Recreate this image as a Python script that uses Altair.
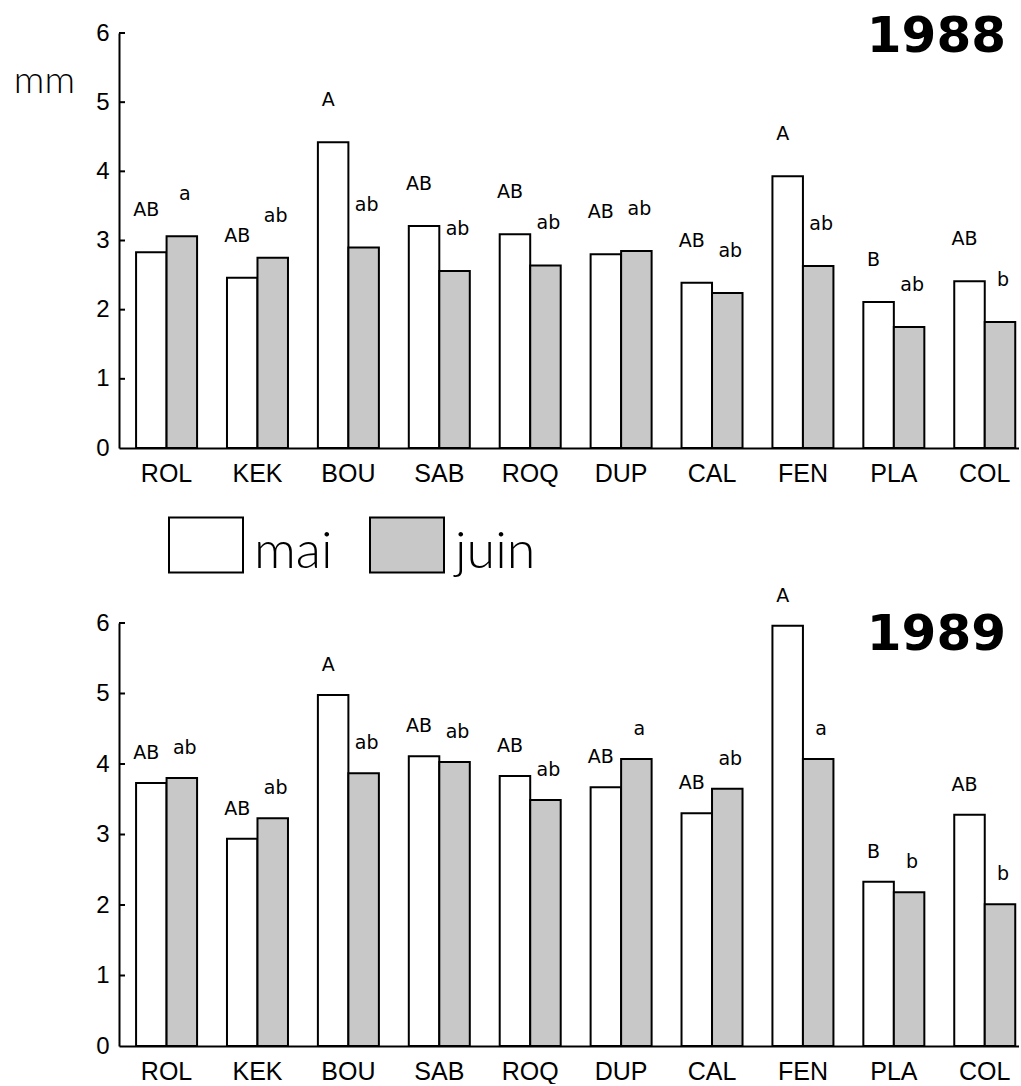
import altair as alt
import pandas as pd

sites = ["ROL", "KEK", "BOU", "SAB", "ROQ", "DUP", "CAL", "FEN", "PLA", "COL"]
months = ["mai", "juin"]
years = ["1988", "1989"]

mai_1988 = [2.83, 2.46, 4.42, 3.21, 3.09, 2.80, 2.39, 3.93, 2.11, 2.41]
juin_1988 = [3.06, 2.75, 2.90, 2.56, 2.64, 2.85, 2.24, 2.63, 1.75, 1.82]
lab_mai_1988 = ["AB", "AB", "A", "AB", "AB", "AB", "AB", "A", "B", "AB"]
lab_juin_1988 = ["a", "ab", "ab", "ab", "ab", "ab", "ab", "ab", "ab", "b"]

mai_1989 = [3.73, 2.94, 4.98, 4.11, 3.83, 3.67, 3.30, 5.96, 2.33, 3.28]
juin_1989 = [3.80, 3.23, 3.87, 4.03, 3.49, 4.07, 3.65, 4.07, 2.18, 2.01]
lab_mai_1989 = ["AB", "AB", "A", "AB", "AB", "AB", "AB", "A", "B", "AB"]
lab_juin_1989 = ["ab", "ab", "ab", "ab", "ab", "a", "ab", "a", "b", "b"]

y_ticks = [0, 1, 2, 3, 4, 5, 6]
unit_label = ["mm"]


def long_df(mai, juin, lab_mai, lab_juin):
    rows = []
    for i, s in enumerate(sites):
        rows.append({"site": s, "month": "mai", "value": mai[i], "label": lab_mai[i]})
        rows.append({"site": s, "month": "juin", "value": juin[i], "label": lab_juin[i]})
    return pd.DataFrame(rows)


W = 900
FONT = "Liberation Sans"
LIGHT = "Lato"
FILL = ["white", "#c8c8c8"]


def panel(df, year, height, label_gap, year_y, show_mm):
    xenc = alt.X(
        "site:N", sort=sites, title=None,
        scale=alt.Scale(paddingInner=0.329, paddingOuter=0.1145, align=0.82),
        axis=alt.Axis(labelFont=FONT, labelFontSize=25, labelColor="black", labelAngle=0,
                      labelPadding=13, ticks=False, tickSize=0, domainColor="black",
                      domainWidth=2, grid=False),
    )
    xoff = alt.XOffset("month:N", sort=months, scale=alt.Scale(paddingInner=0, paddingOuter=0))
    yenc = alt.Y(
        "value:Q", title=None,
        scale=alt.Scale(domain=[0, 6], nice=False, zero=True),
        axis=alt.Axis(values=y_ticks, format="d", labelFont=FONT, labelFontSize=24,
                      labelColor="black", labelPadding=10, ticks=False, tickSize=0,
                      domainColor="black", domainWidth=2, grid=False),
    )
    bars = alt.Chart(df).mark_bar(stroke="black", strokeWidth=2).encode(
        x=xenc, xOffset=xoff, y=yenc,
        fill=alt.Fill("month:N", sort=months,
                      scale=alt.Scale(domain=months, range=FILL), legend=None),
    )
    lab_mai = alt.Chart(df).transform_filter(alt.datum.month == "mai").mark_text(
        font="DejaVu Sans", fontSize=19, dy=-label_gap, dx=-5,
        baseline="alphabetic", color="black",
    ).encode(x=xenc, xOffset=xoff, y=alt.Y("value:Q", title=None), text="label:N")
    lab_juin = alt.Chart(df).transform_filter(alt.datum.month == "juin").mark_text(
        font="DejaVu Sans", fontSize=19, dy=-label_gap, dx=3,
        baseline="alphabetic", color="black",
    ).encode(x=xenc, xOffset=xoff, y=alt.Y("value:Q", title=None), text="label:N")
    ticks = alt.Chart(pd.DataFrame({"t": y_ticks[1:]})).mark_rule(
        color="black", strokeWidth=2
    ).encode(y=alt.Y("t:Q", title=None), x=alt.value(0), x2=alt.value(6))
    ytxt = alt.Chart(pd.DataFrame({"year": [year]})).mark_text(
        font="DejaVu Sans", fontWeight="bold", fontSize=50, align="right",
        baseline="alphabetic", color="black",
    ).encode(text="year:N", x=alt.value(887), y=alt.value(year_y))
    layers = [bars, lab_mai, lab_juin, ticks, ytxt]
    if show_mm:
        mm = alt.Chart(pd.DataFrame({"u": unit_label})).mark_text(
            font=LIGHT, fontWeight=300, fontSize=38, align="right",
            baseline="alphabetic", color="black",
        ).encode(text="u:N", x=alt.value(-44), y=alt.value(60))
        layers.append(mm)
    return alt.layer(*layers).properties(width=W, height=height)


top = panel(long_df(mai_1988, juin_1988, lab_mai_1988, lab_juin_1988), years[0], 415, 36, 19, True)
bottom = panel(long_df(mai_1989, juin_1989, lab_mai_1989, lab_juin_1989), years[1], 423, 24, 27, False)

leg_df = pd.DataFrame({"month": months})
leg_x = alt.X("month:N", sort=months,
              scale=alt.Scale(domain=months, range=[87, 288], padding=0), axis=None)
leg_box = alt.Chart(leg_df).mark_point(
    shape="M-1,-0.743L1,-0.743L1,0.743L-1,0.743Z", size=5476, filled=True,
    stroke="black", strokeWidth=2, opacity=1,
).encode(
    x=leg_x, y=alt.value(77),
    fill=alt.Fill("month:N", sort=months, scale=alt.Scale(domain=months, range=FILL), legend=None),
)
leg_txt = alt.Chart(leg_df).mark_text(
    font=LIGHT, fontWeight=300, fontSize=52, align="left", baseline="alphabetic",
    dx=48, color="black",
).encode(x=leg_x, y=alt.value(100), text="month:N")
legend = alt.layer(leg_box, leg_txt).properties(width=W, height=135)

chart = alt.vconcat(top, legend, bottom, spacing=20, bounds="flush").properties(
    padding={"left": 13, "top": 12, "right": 0, "bottom": 0},
    background="white",
).configure_view(stroke=None, strokeWidth=0)

chart.save("out.html", embed_options={"renderer": "svg", "actions": False})
